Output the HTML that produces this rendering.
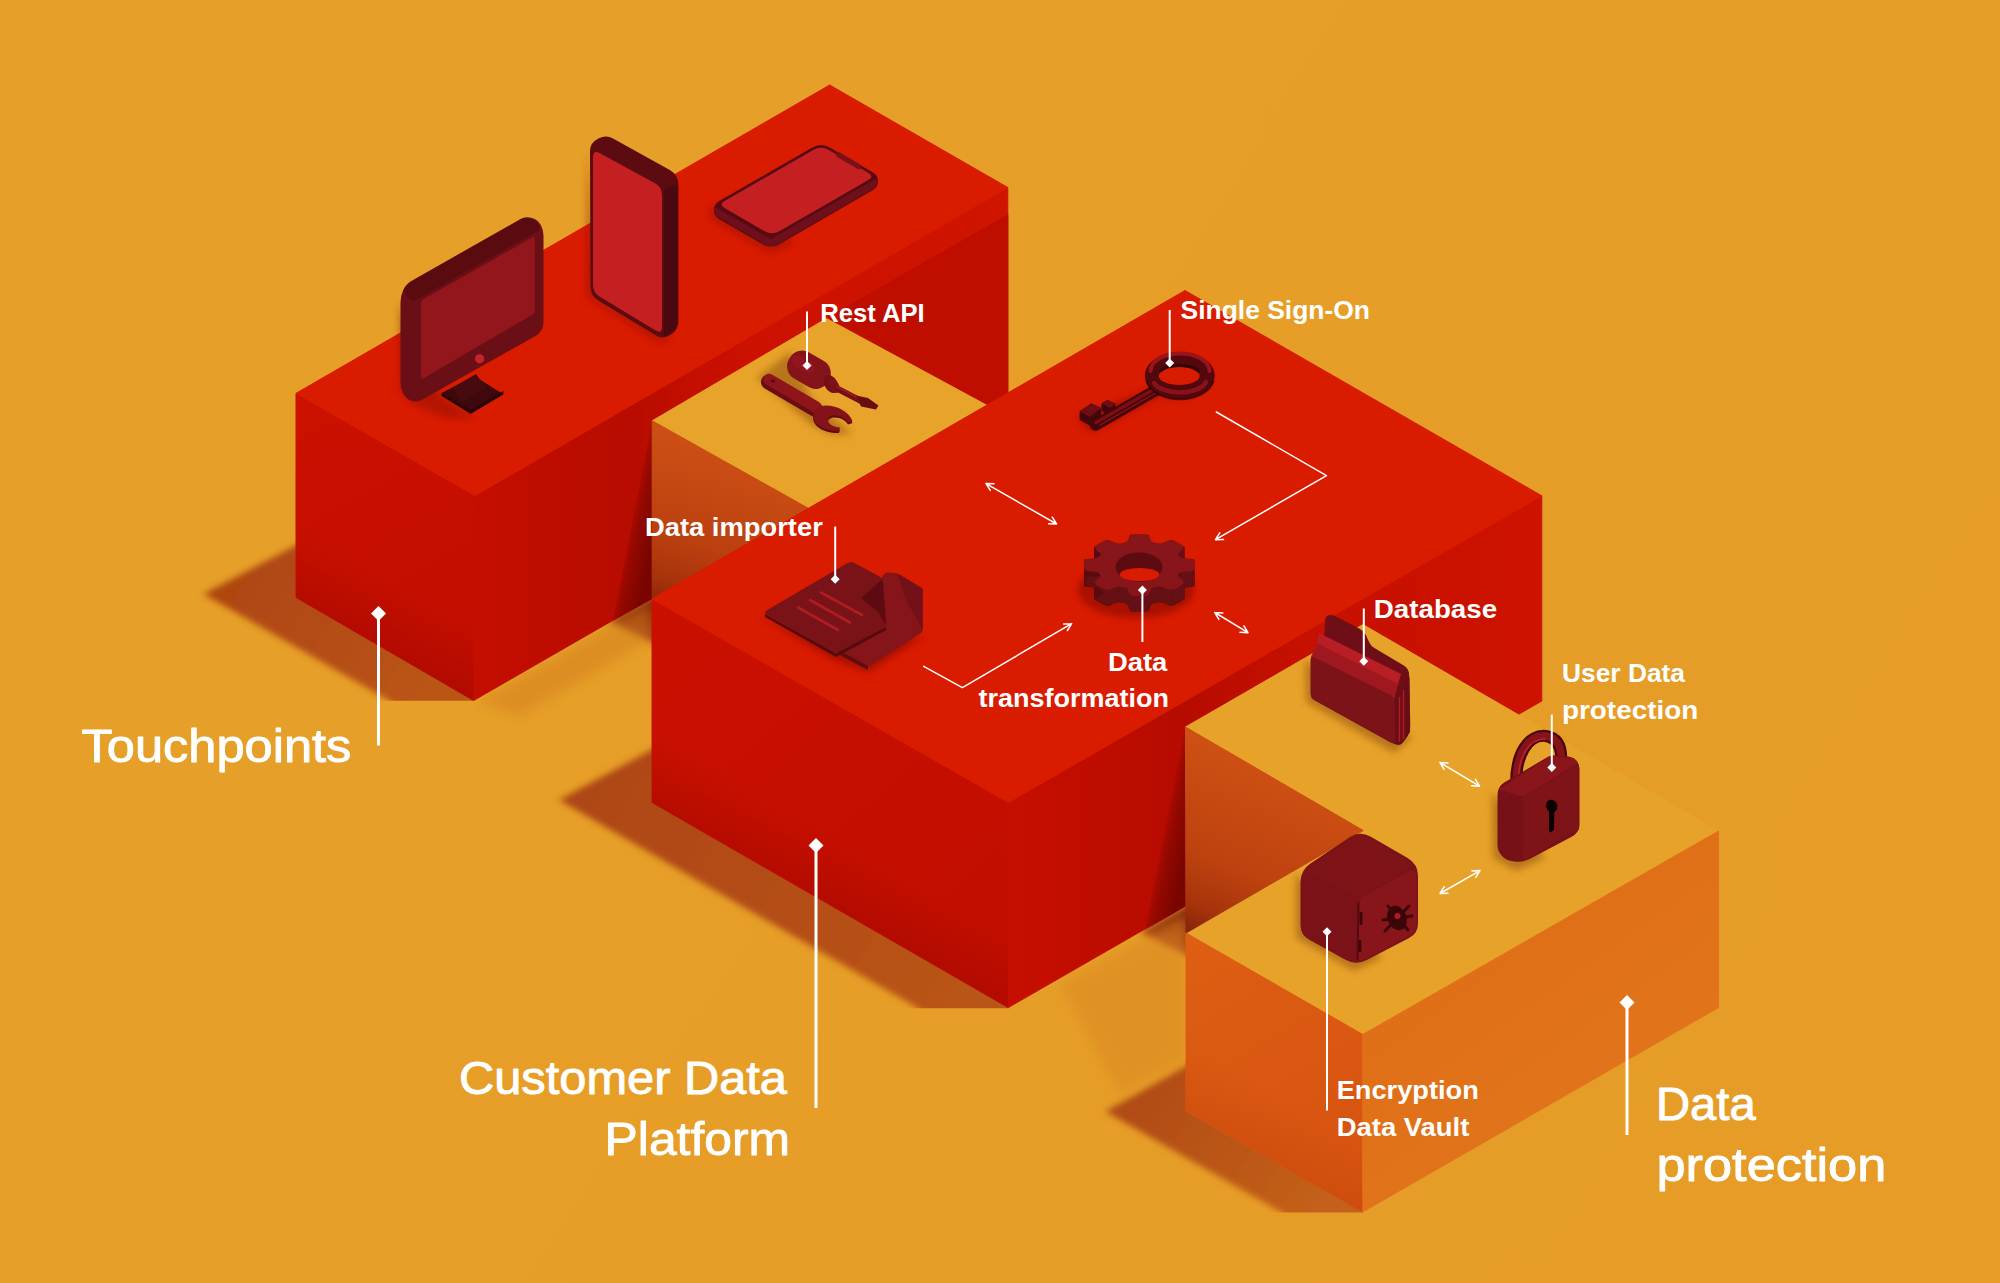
<!DOCTYPE html>
<html lang="en">
<head>
<meta charset="utf-8">
<title>Customer Data Platform architecture</title>
<style>
html,body{margin:0;padding:0;background:#E69F28;}
body{width:2000px;height:1283px;overflow:hidden;font-family:"Liberation Sans",sans-serif;}
svg{display:block;}
</style>
</head>
<body>
<svg width="2000" height="1283" viewBox="0 0 2000 1283">

<defs>
<filter id="b2" x="-20%" y="-20%" width="140%" height="140%"><feGaussianBlur stdDeviation="3"/></filter>
<filter id="b3" x="-20%" y="-20%" width="140%" height="140%"><feGaussianBlur stdDeviation="3.5"/></filter>
<filter id="b6" x="-30%" y="-30%" width="160%" height="160%"><feGaussianBlur stdDeviation="6"/></filter>
<linearGradient id="gBg" gradientUnits="userSpaceOnUse" x1="0" y1="0" x2="2000" y2="1283"><stop offset="0" stop-color="#E6A028"/><stop offset="1" stop-color="#E69C27"/></linearGradient>
<linearGradient id="shTP" gradientUnits="userSpaceOnUse" x1="230" y1="560" x2="440" y2="700"><stop offset="0" stop-color="#AE4511"/><stop offset="1" stop-color="#BB5517"/></linearGradient>
<linearGradient id="shCDP" gradientUnits="userSpaceOnUse" x1="590" y1="770" x2="960" y2="1000"><stop offset="0" stop-color="#AE4612"/><stop offset="1" stop-color="#B95418"/></linearGradient>
<linearGradient id="shDP" gradientUnits="userSpaceOnUse" x1="1130" y1="1080" x2="1320" y2="1210"><stop offset="0" stop-color="#B04A12"/><stop offset="1" stop-color="#C4601A"/></linearGradient>
<linearGradient id="tpL" gradientUnits="userSpaceOnUse" x1="300" y1="400" x2="470" y2="700"><stop offset="0" stop-color="#CB1100"/><stop offset="1" stop-color="#C00D00"/></linearGradient>
<linearGradient id="tpR" gradientUnits="userSpaceOnUse" x1="475" y1="0" x2="1007" y2="0"><stop offset="0" stop-color="#C40E00"/><stop offset="0.18" stop-color="#BC0C00"/><stop offset="0.3" stop-color="#B80C00"/><stop offset="0.4" stop-color="#C30E00"/><stop offset="0.52" stop-color="#CC1100"/><stop offset="1" stop-color="#CF1400"/></linearGradient>
<linearGradient id="cdpL" gradientUnits="userSpaceOnUse" x1="660" y1="600" x2="1000" y2="1000"><stop offset="0" stop-color="#CA1100"/><stop offset="1" stop-color="#C00D00"/></linearGradient>
<linearGradient id="cdpR" gradientUnits="userSpaceOnUse" x1="1008" y1="0" x2="1541" y2="0"><stop offset="0" stop-color="#C60F00"/><stop offset="0.2" stop-color="#BD0C00"/><stop offset="0.33" stop-color="#B60B00"/><stop offset="0.55" stop-color="#C61000"/><stop offset="1" stop-color="#CD1200"/></linearGradient>
<linearGradient id="yTri1" gradientUnits="userSpaceOnUse" x1="700" y1="440" x2="655" y2="600"><stop offset="0" stop-color="#CC5014"/><stop offset="0.6" stop-color="#BC400F"/><stop offset="0.85" stop-color="#A8340C"/><stop offset="1" stop-color="#8E2808"/></linearGradient>
<linearGradient id="yTri2" gradientUnits="userSpaceOnUse" x1="1260" y1="760" x2="1190" y2="930"><stop offset="0" stop-color="#CE5013"/><stop offset="0.6" stop-color="#BE420F"/><stop offset="0.85" stop-color="#A8340C"/><stop offset="1" stop-color="#8A2608"/></linearGradient>
<linearGradient id="dpL" gradientUnits="userSpaceOnUse" x1="1190" y1="940" x2="1360" y2="1210"><stop offset="0" stop-color="#DE5E13"/><stop offset="1" stop-color="#D65210"/></linearGradient>
<linearGradient id="dpR" gradientUnits="userSpaceOnUse" x1="1400" y1="900" x2="1600" y2="1180"><stop offset="0" stop-color="#DF6D16"/><stop offset="0.8" stop-color="#E1741A"/><stop offset="1" stop-color="#E47E1E"/></linearGradient>
<linearGradient id="shFaceTP" gradientUnits="userSpaceOnUse" x1="624" y1="540" x2="651" y2="545.4"><stop offset="0" stop-color="#8E0800" stop-opacity="0"/><stop offset="0.4" stop-color="#8E0800" stop-opacity="0.88"/><stop offset="1" stop-color="#7A0500" stop-opacity="1"/></linearGradient>
<linearGradient id="shFaceCDP" gradientUnits="userSpaceOnUse" x1="1157" y1="850" x2="1184.5" y2="855.5"><stop offset="0" stop-color="#8E0800" stop-opacity="0"/><stop offset="0.4" stop-color="#8E0800" stop-opacity="0.88"/><stop offset="1" stop-color="#7A0500" stop-opacity="1"/></linearGradient>
<linearGradient id="aoL1" gradientUnits="userSpaceOnUse" x1="415" y1="596.04" x2="385" y2="648"><stop offset="0" stop-color="#9A0600" stop-opacity="0"/><stop offset="1" stop-color="#980600" stop-opacity="0.36"/></linearGradient>
<linearGradient id="aoL2" gradientUnits="userSpaceOnUse" x1="860" y1="853.04" x2="830" y2="905"><stop offset="0" stop-color="#9A0600" stop-opacity="0"/><stop offset="1" stop-color="#980600" stop-opacity="0.36"/></linearGradient>
<linearGradient id="aoL3" gradientUnits="userSpaceOnUse" x1="1304" y1="1109.54" x2="1274" y2="1161.5"><stop offset="0" stop-color="#B83A08" stop-opacity="0"/><stop offset="1" stop-color="#B83A08" stop-opacity="0.25"/></linearGradient>
<linearGradient id="shCorner1" gradientUnits="userSpaceOnUse" x1="645" y1="605" x2="640" y2="648"><stop offset="0" stop-color="#86280A"/><stop offset="1" stop-color="#B8541A"/></linearGradient>
<linearGradient id="shCorner2" gradientUnits="userSpaceOnUse" x1="1178" y1="914" x2="1173" y2="958"><stop offset="0" stop-color="#86280A"/><stop offset="1" stop-color="#B8541A"/></linearGradient>
<linearGradient id="tpR2" gradientUnits="userSpaceOnUse" x1="475" y1="0" x2="652" y2="0"><stop offset="0" stop-color="#B00A00" stop-opacity="0"/><stop offset="0.5" stop-color="#B00A00" stop-opacity="0.35"/><stop offset="1" stop-color="#A80800" stop-opacity="0.75"/></linearGradient>
<linearGradient id="cdpR2" gradientUnits="userSpaceOnUse" x1="1008" y1="0" x2="1186" y2="0"><stop offset="0" stop-color="#B00A00" stop-opacity="0"/><stop offset="0.5" stop-color="#B00A00" stop-opacity="0.3"/><stop offset="1" stop-color="#A80800" stop-opacity="0.7"/></linearGradient>
</defs>

<rect width="2000" height="1283" fill="url(#gBg)"/>
<clipPath id="cTP"><rect x="0" y="0" width="473.9" height="700.8"/></clipPath>
<g clip-path="url(#cTP)"><g filter="url(#b2)">
<polygon points="310,538 203.5,594 388,700 396,707 490,707 490,640 310,560" fill="url(#shTP)"  />
</g></g>
<clipPath id="cCDP"><rect x="0" y="0" width="1008.6" height="1008.2"/></clipPath>
<g clip-path="url(#cCDP)"><g filter="url(#b2)">
<polygon points="668,741 559,800 915,1006.5 925,1015 1025,1015 1025,960 668,780" fill="url(#shCDP)"  />
</g></g>
<clipPath id="cDP"><rect x="0" y="0" width="1362.8" height="1212.6"/></clipPath>
<g clip-path="url(#cDP)"><g filter="url(#b2)">
<polygon points="1200,1058 1105.5,1111.5 1279,1211 1289,1219 1380,1219 1380,1180 1200,1095" fill="url(#shDP)"  />
</g></g>
<g filter="url(#b3)">
<polygon points="668,588 608,621 668,650" fill="url(#shCorner1)"  />
<polygon points="1200,898 1140,932 1200,962" fill="url(#shCorner2)"  />
</g>
<g filter="url(#b6)" opacity="0.45">
<polygon points="478,702 650,603 650,640 520,716" fill="#D27A1C"  />
</g>
<g filter="url(#b6)" opacity="0.5">
<polygon points="1060,985 1186,915 1186,1060 1120,1095" fill="#DC8620"  />
</g>
<polygon points="296,393.3 475,495.6 473.6,700.5 296,597.5" fill="url(#tpL)" stroke="url(#tpL)" stroke-width="1" stroke-linejoin="round" />
<polygon points="475,495.6 1007.8,187.5 1007.8,393 473.6,700.5" fill="url(#tpR)" stroke="url(#tpR)" stroke-width="1" stroke-linejoin="round" />
<polygon points="296,527.5 473.6,630.5 473.6,700.5 296,597.5" fill="url(#aoL1)"  />
<polygon points="829.7,85 1007.8,187.5 475,495.6 296,393.3" fill="#D91B00" stroke="#D91B00" stroke-width="1" stroke-linejoin="round" />
<polygon points="826.5,318.5 1007.8,215 1007.8,394 985,406.5" fill="#BF0D00" stroke="#BF0D00" stroke-width="1" stroke-linejoin="round" />
<polygon points="652.2,420.5 652.2,599 613,621" fill="url(#shFaceTP)"  />
<polygon points="652.2,420.8 826.5,318.5 990,407 815,512" fill="#E7A32A" stroke="#E7A32A" stroke-width="1" stroke-linejoin="round" />
<polygon points="652.2,420.8 815,512 815,640 652.2,600" fill="url(#yTri1)" stroke="url(#yTri1)" stroke-width="1" stroke-linejoin="round" />
<polygon points="652,598.8 1008.4,802.5 1008.2,1007.6 652,802.5" fill="url(#cdpL)" stroke="url(#cdpL)" stroke-width="1" stroke-linejoin="round" />
<polygon points="1008.4,802.5 1541.8,495.8 1541.8,701 1008.2,1007.6" fill="url(#cdpR)" stroke="url(#cdpR)" stroke-width="1" stroke-linejoin="round" />
<polygon points="652,732.5 1008.2,937.6 1008.2,1007.6 652,802.5" fill="url(#aoL2)"  />
<polygon points="1185,290.5 1541.8,495.8 1008.4,802.5 652,598.8" fill="#D91B00" stroke="#D91B00" stroke-width="1" stroke-linejoin="round" />
<polygon points="1185.5,727 1185.5,906.5 1145,930" fill="url(#shFaceCDP)"  />
<polygon points="1185.5,727 1363,624.6 1718.6,831 1362.8,1034.5 1186,933 1363.3,830.5" fill="#E7A22A" stroke="#E7A22A" stroke-width="1" stroke-linejoin="round" />
<polygon points="1185.5,727 1363.3,830.5 1186,933" fill="url(#yTri2)" stroke="url(#yTri2)" stroke-width="1" stroke-linejoin="round" />
<polygon points="1186,933 1362.8,1034.5 1362.6,1212 1186,1111" fill="url(#dpL)" stroke="url(#dpL)" stroke-width="1" stroke-linejoin="round" />
<polygon points="1362.8,1034.5 1718.6,831 1718.6,1007.5 1362.6,1212" fill="url(#dpR)" stroke="url(#dpR)" stroke-width="1" stroke-linejoin="round" />
<polygon points="1186,1041 1362.6,1142 1362.6,1212 1186,1111" fill="url(#aoL3)"  />
<!-- ===== icon soft shadows ===== -->
<g filter="url(#b3)" opacity="0.38">
<polygon points="399.0,302.0 401.0,392.0 414.0,404.0 445.0,418.0 475.0,418.0 440.0,395.0" fill="#7A0800" />
<polygon points="587.0,150.0 587.0,297.0 660.0,343.0 672.0,340.0 600.0,298.0" fill="#7A0800" />
<polygon points="711.0,206.0 711.0,219.0 770.0,253.0 795.0,243.0" fill="#7A0800" />
<polygon points="1077.0,418.0 1092.0,432.0 1160.0,396.0 1200.0,402.0 1150.0,390.0" fill="#5A0400" />
<ellipse cx="1136" cy="590" rx="58" ry="28" fill="#5A0400"/>
<polygon points="758.0,616.0 834.0,660.0 868.0,672.0 925.0,636.0 840.0,650.0" fill="#5A0400" />
</g>
<g filter="url(#b3)" opacity="0.5">
<polygon points="757.0,378.0 770.0,368.0 790.0,352.0 812.0,400.0 852.0,434.0 830.0,434.0 812.0,425.0" fill="#8A4A08" />
<polygon points="1305.0,660.0 1306.0,702.0 1394.0,753.0 1412.0,738.0" fill="#8A4A08" />
<polygon points="1492.0,792.0 1493.0,858.0 1516.0,871.0 1545.0,858.0" fill="#8A4A08" />
<polygon points="1296.0,874.0 1296.0,938.0 1354.0,971.0 1382.0,958.0" fill="#8A4A08" />
</g>
<!-- ===== monitor ===== -->
<g>
<polygon points="441.6,393.0 474.3,376.0 503.3,394.3 470.6,413.7" fill="#3E080D" />
<polygon points="441.6,393.0 470.6,410.0 503.3,391.0 503.3,394.3 470.6,413.7 441.6,396.0" fill="#2A0508" />
<polygon points="452.0,388.0 476.0,374.0 486.0,388.0 462.0,402.0" fill="#470A0F" />
<path d="M400.5,302.6 Q400.5,296.0 403.2,290.0 L403.2,290.0 Q406.0,284.0 411.7,280.7 L520.5,219.1 Q526.0,216.0 532.0,218.0 L532.6,218.2 Q538.0,220.0 540.8,225.0 L540.8,225.0 Q543.5,230.0 543.5,235.7 L543.5,322.8 Q543.5,327.0 541.2,330.5 L541.2,330.5 Q539.0,334.0 535.4,336.0 L422.0,399.7 Q417.0,402.5 411.5,400.8 L411.5,400.8 Q406.0,399.0 403.4,393.8 L403.2,393.5 Q400.5,388.0 400.5,381.9 Z" fill="#6A0F15" />
<path d="M404.6,292.7 Q403.0,289.0 405.9,286.3 L407.1,285.2 Q410.0,282.5 413.5,280.5 L521.5,219.0 Q525.0,217.0 528.8,218.4 L532.2,219.6 Q536.0,221.0 538.1,224.4 L538.9,225.6 Q541.0,229.0 537.5,231.0 L417.3,299.1 Q414.0,301.0 410.5,299.5 L410.5,299.5 Q407.0,298.0 405.5,294.5 Z" fill="#5A0B10" />
<path d="M421.0,303.5 Q421.0,300.5 423.6,299.0 L532.1,237.5 Q534.7,236.0 534.7,239.0 L534.7,310.4 Q534.7,313.4 532.1,314.9 L423.6,378.3 Q421.0,379.8 421.0,376.8 Z" fill="#93161C" />
<circle cx="479.6" cy="358.8" r="4.6" fill="#C6232B"/>
</g>
<!-- ===== standing phone ===== -->
<g>
<path d="M590.0,151.0 Q590.0,143.0 597.1,139.2 L598.9,138.3 Q606.0,134.5 613.0,138.4 L669.8,170.1 Q678.5,175.0 678.5,185.0 L678.5,320.9 Q678.5,330.0 670.8,334.8 L669.8,335.3 Q663.0,339.5 656.1,335.4 L599.1,301.1 Q590.5,296.0 590.5,286.0 Z" fill="#5C0B11" />
<path d="M664.0,192.0 Q664.0,190.0 665.7,189.0 L670.8,186.0 Q677.5,182.0 677.5,189.8 L677.5,320.0 Q677.5,328.0 670.8,332.2 L665.7,335.4 Q664.0,336.5 664.0,334.5 Z" fill="#4A090E" />
<path d="M593.0,157.5 Q593.0,149.5 600.0,153.3 L655.0,183.2 Q662.0,187.0 662.0,195.0 L662.0,326.5 Q662.0,334.5 655.2,330.3 L599.8,296.7 Q593.0,292.5 593.0,284.5 Z" fill="#C42022" />
</g>
<!-- ===== lying phone ===== -->
<g>
<path d="M714.0,210.0 Q714.0,204.0 719.2,201.0 L812.3,147.5 Q821.0,142.5 829.7,147.5 L873.0,172.6 Q878.0,175.5 878.0,181.2 L878.0,181.2 Q878.0,187.0 873.0,189.9 L779.7,244.0 Q771.0,249.0 762.3,244.0 L719.2,219.0 Q714.0,216.0 714.0,210.0 Z" fill="#580A13" />
<path d="M715.0,209.0 Q715.0,207.0 716.7,208.0 L769.3,238.0 Q771.0,239.0 772.7,238.0 L875.3,179.0 Q877.0,178.0 877.0,180.0 L877.0,182.5 Q877.0,187.0 873.1,189.2 L777.9,244.0 Q771.0,248.0 764.1,243.9 L718.4,217.0 Q715.0,215.0 715.0,211.0 Z" fill="#6E101B" />
<path d="M724.6,208.0 Q718.5,204.5 724.6,201.0 L813.2,150.0 Q821.0,145.5 828.8,150.0 L868.4,173.0 Q874.5,176.5 868.4,180.0 L779.8,231.0 Q772.0,235.5 764.2,231.0 Z" fill="#C42022" />
<path d="M837.0,153.2 Q838.0,151.5 839.7,152.5 L860.3,164.5 Q862.0,165.5 861.0,167.2 L860.5,168.3 Q859.5,170.0 857.8,169.0 L837.2,157.0 Q835.5,156.0 836.5,154.3 Z" fill="#7A1018" />
</g>
<!-- ===== tools ===== -->
<g>
<path d="M768.5,382 L815.5,409.5" stroke="#6A0D12" stroke-width="15" stroke-linecap="round" fill="none"/>
<path d="M769,379.5 L816,407" stroke="#8E1519" stroke-width="11.5" stroke-linecap="round" fill="none"/>
<ellipse cx="773" cy="381" rx="2.2" ry="1.5" fill="#560A0E"/>
<path d="M852.5,423 C849,414 838,407.5 826,407.5 C818,407.5 813,412 813,418 C813,426 824,433.5 839,433 L840,429.5 C833,429 828,426 828,422 C828,418 833,416.5 839,418 C843,419 846,421.5 848,424.5 Z" fill="#5E0B10"/>
<path d="M852.5,421 C849,412 838,405.5 826,405.5 C818,405.5 813,410 813,416 C813,424 824,431.5 839,431 L840,427.5 C833,427 828,424 828,420 C828,416 833,414.5 839,416 C843,417 846,419.5 848,422.5 Z" fill="#831318"/>
<rect x="786.5" y="354.5" width="45" height="30" rx="14" ry="14" transform="rotate(30 808.5 369.5)" fill="#84131A"/>
<ellipse cx="803" cy="364" rx="13" ry="7" transform="rotate(30 803 364)" fill="#981820" opacity="0.6"/>
<ellipse cx="831" cy="384" rx="6.5" ry="9.5" transform="rotate(-28 831 384)" fill="#741016"/>
<ellipse cx="834.5" cy="386" rx="4.5" ry="7.5" transform="rotate(-28 834.5 386)" fill="#7E1218"/>
<path d="M836,388 L864,402.5" stroke="#74101A" stroke-width="6" stroke-linecap="round"/>
<path d="M836.5,386.5 L862,400" stroke="#A0181E" stroke-width="1.5" stroke-linecap="round"/>
<polygon points="856.0,395.5 868.0,398.0 878.5,405.5 876.0,409.5 861.0,406.5" fill="#6A0D11" />
</g>
<!-- ===== key ===== -->
<g>
<polygon points="1079.6,411.6 1091.2,403.6 1101.2,408.0 1101.2,417.0 1090.0,425.5 1079.6,420.0" fill="#43060A" />
<polygon points="1079.6,411.6 1091.2,403.6 1101.2,408.0 1090.0,416.8" fill="#6E0D13" />
<polygon points="1101.6,403.2 1107.6,400.0 1115.6,404.0 1115.6,412.0 1110.0,416.0 1101.6,411.0" fill="#43060A" />
<polygon points="1101.6,403.2 1107.6,400.0 1115.6,404.0 1110.0,408.0" fill="#6E0D13" />
<path d="M1157,389.5 L1095.5,425" stroke="#45060A" stroke-width="11.5" stroke-linecap="round"/>
<path d="M1157,387.5 L1096,422.5" stroke="#7A0E15" stroke-width="3.5" stroke-linecap="round"/>
<path d="M1158,391.5 L1100,425" stroke="#A8161E" stroke-width="1.2" stroke-linecap="round" opacity="0.8"/>
<path fill-rule="evenodd" d="M1144.8,375.6 a35,23.6 0 1,0 70,0 a35,23.6 0 1,0 -70,0 Z M1158.7,376 a20.5,9 0 1,0 41,0 a20.5,9 0 1,0 -41,0 Z" fill="#52080D"/>
<path d="M1150.5,371 a29.5,17.5 0 0,1 59,0" fill="none" stroke="#9A141C" stroke-width="4" stroke-linecap="round"/>
<path d="M1154,383 a27,13.5 0 0,0 52,-1" fill="none" stroke="#8A1119" stroke-width="4.5" stroke-linecap="round"/>
<path d="M1160,372 a20,8.5 0 0,1 39,0" fill="none" stroke="#2E0406" stroke-width="2.5"/>
<path d="M1146.5,381 a34,22 0 0,0 67,0" fill="none" stroke="#2E0406" stroke-width="2" opacity="0.7"/>
</g>
<!-- ===== gear ===== -->
<g>
<path d="M1177.9,572.8 Q1179.7,575.2 1182.7,575.4 L1190.6,576.1 Q1193.6,576.3 1193.6,579.3 L1193.6,582.7 Q1193.6,585.7 1190.6,585.9 L1182.7,586.6 Q1179.7,586.8 1177.9,589.2 L1177.3,590.1 Q1175.4,592.5 1177.9,594.2 L1181.4,596.8 Q1183.8,598.6 1181.2,600.1 L1174.3,603.8 Q1171.6,605.3 1168.8,604.2 L1163.1,601.8 Q1160.3,600.7 1157.4,601.4 L1152.9,602.4 Q1150.0,603.0 1149.2,605.9 L1148.7,607.7 Q1147.9,610.6 1144.9,610.6 L1133.7,610.6 Q1130.7,610.6 1129.9,607.7 L1129.4,605.9 Q1128.6,603.0 1125.7,602.4 L1121.2,601.4 Q1118.3,600.7 1115.5,601.8 L1109.8,604.2 Q1107.0,605.3 1104.3,603.8 L1097.4,600.1 Q1094.8,598.6 1097.2,596.8 L1100.7,594.2 Q1103.2,592.5 1101.3,590.1 L1100.7,589.2 Q1098.9,586.8 1095.9,586.6 L1088.0,585.9 Q1085.0,585.7 1085.0,582.7 L1085.0,579.3 Q1085.0,576.3 1088.0,576.1 L1095.9,575.4 Q1098.9,575.2 1100.7,572.8 L1101.3,571.9 Q1103.2,569.5 1100.7,567.8 L1097.2,565.2 Q1094.8,563.4 1097.4,561.9 L1104.3,558.2 Q1107.0,556.7 1109.8,557.8 L1115.5,560.2 Q1118.3,561.3 1121.2,560.6 L1125.7,559.6 Q1128.6,559.0 1129.4,556.1 L1129.9,554.3 Q1130.7,551.4 1133.7,551.4 L1144.9,551.4 Q1147.9,551.4 1148.7,554.3 L1149.2,556.1 Q1150.0,559.0 1152.9,559.6 L1157.4,560.6 Q1160.3,561.3 1163.1,560.2 L1168.8,557.8 Q1171.6,556.7 1174.3,558.2 L1181.2,561.9 Q1183.8,563.4 1181.4,565.2 L1177.9,567.8 Q1175.4,569.5 1177.3,571.9 Z" fill="#5A0B10" stroke="#5A0B10" stroke-width="2" stroke-linejoin="round"/>
<polygon points="1179.7,559.2 1193.6,560.3 1193.6,576.3 1179.7,575.2" fill="#5A0B10" stroke="#5A0B10" stroke-width="1.5" stroke-linejoin="round"/>
<polygon points="1193.6,560.3 1193.6,569.7 1193.6,585.7 1193.6,576.3" fill="#5A0B10" stroke="#5A0B10" stroke-width="1.5" stroke-linejoin="round"/>
<polygon points="1193.6,569.7 1179.7,570.8 1179.7,586.8 1193.6,585.7" fill="#651014" stroke="#651014" stroke-width="1.5" stroke-linejoin="round"/>
<polygon points="1179.7,570.8 1175.4,576.5 1175.4,592.5 1179.7,586.8" fill="#651014" stroke="#651014" stroke-width="1.5" stroke-linejoin="round"/>
<polygon points="1175.4,576.5 1183.8,582.6 1183.8,598.6 1175.4,592.5" fill="#5A0B10" stroke="#5A0B10" stroke-width="1.5" stroke-linejoin="round"/>
<polygon points="1183.8,582.6 1171.6,589.3 1171.6,605.3 1183.8,598.6" fill="#651014" stroke="#651014" stroke-width="1.5" stroke-linejoin="round"/>
<polygon points="1171.6,589.3 1160.3,584.7 1160.3,600.7 1171.6,605.3" fill="#651014" stroke="#651014" stroke-width="1.5" stroke-linejoin="round"/>
<polygon points="1160.3,584.7 1150.0,587.0 1150.0,603.0 1160.3,600.7" fill="#651014" stroke="#651014" stroke-width="1.5" stroke-linejoin="round"/>
<polygon points="1150.0,587.0 1147.9,594.6 1147.9,610.6 1150.0,603.0" fill="#651014" stroke="#651014" stroke-width="1.5" stroke-linejoin="round"/>
<polygon points="1147.9,594.6 1130.7,594.6 1130.7,610.6 1147.9,610.6" fill="#651014" stroke="#651014" stroke-width="1.5" stroke-linejoin="round"/>
<polygon points="1130.7,594.6 1128.6,587.0 1128.6,603.0 1130.7,610.6" fill="#651014" stroke="#651014" stroke-width="1.5" stroke-linejoin="round"/>
<polygon points="1128.6,587.0 1118.3,584.7 1118.3,600.7 1128.6,603.0" fill="#651014" stroke="#651014" stroke-width="1.5" stroke-linejoin="round"/>
<polygon points="1118.3,584.7 1107.0,589.3 1107.0,605.3 1118.3,600.7" fill="#651014" stroke="#651014" stroke-width="1.5" stroke-linejoin="round"/>
<polygon points="1107.0,589.3 1094.8,582.6 1094.8,598.6 1107.0,605.3" fill="#651014" stroke="#651014" stroke-width="1.5" stroke-linejoin="round"/>
<polygon points="1094.8,582.6 1103.2,576.5 1103.2,592.5 1094.8,598.6" fill="#5A0B10" stroke="#5A0B10" stroke-width="1.5" stroke-linejoin="round"/>
<polygon points="1103.2,576.5 1098.9,570.8 1098.9,586.8 1103.2,592.5" fill="#651014" stroke="#651014" stroke-width="1.5" stroke-linejoin="round"/>
<polygon points="1098.9,570.8 1085.0,569.7 1085.0,585.7 1098.9,586.8" fill="#651014" stroke="#651014" stroke-width="1.5" stroke-linejoin="round"/>
<polygon points="1085.0,569.7 1085.0,560.3 1085.0,576.3 1085.0,585.7" fill="#5A0B10" stroke="#5A0B10" stroke-width="1.5" stroke-linejoin="round"/>
<polygon points="1085.0,560.3 1098.9,559.2 1098.9,575.2 1085.0,576.3" fill="#5A0B10" stroke="#5A0B10" stroke-width="1.5" stroke-linejoin="round"/>
<polygon points="1098.9,559.2 1103.2,553.5 1103.2,569.5 1098.9,575.2" fill="#5A0B10" stroke="#5A0B10" stroke-width="1.5" stroke-linejoin="round"/>
<polygon points="1103.2,553.5 1094.8,547.4 1094.8,563.4 1103.2,569.5" fill="#651014" stroke="#651014" stroke-width="1.5" stroke-linejoin="round"/>
<polygon points="1094.8,547.4 1107.0,540.7 1107.0,556.7 1094.8,563.4" fill="#5A0B10" stroke="#5A0B10" stroke-width="1.5" stroke-linejoin="round"/>
<polygon points="1107.0,540.7 1118.3,545.3 1118.3,561.3 1107.0,556.7" fill="#5A0B10" stroke="#5A0B10" stroke-width="1.5" stroke-linejoin="round"/>
<polygon points="1118.3,545.3 1128.6,543.0 1128.6,559.0 1118.3,561.3" fill="#5A0B10" stroke="#5A0B10" stroke-width="1.5" stroke-linejoin="round"/>
<polygon points="1128.6,543.0 1130.7,535.4 1130.7,551.4 1128.6,559.0" fill="#5A0B10" stroke="#5A0B10" stroke-width="1.5" stroke-linejoin="round"/>
<polygon points="1130.7,535.4 1147.9,535.4 1147.9,551.4 1130.7,551.4" fill="#5A0B10" stroke="#5A0B10" stroke-width="1.5" stroke-linejoin="round"/>
<polygon points="1147.9,535.4 1150.0,543.0 1150.0,559.0 1147.9,551.4" fill="#5A0B10" stroke="#5A0B10" stroke-width="1.5" stroke-linejoin="round"/>
<polygon points="1150.0,543.0 1160.3,545.3 1160.3,561.3 1150.0,559.0" fill="#5A0B10" stroke="#5A0B10" stroke-width="1.5" stroke-linejoin="round"/>
<polygon points="1160.3,545.3 1171.6,540.7 1171.6,556.7 1160.3,561.3" fill="#5A0B10" stroke="#5A0B10" stroke-width="1.5" stroke-linejoin="round"/>
<polygon points="1171.6,540.7 1183.8,547.4 1183.8,563.4 1171.6,556.7" fill="#5A0B10" stroke="#5A0B10" stroke-width="1.5" stroke-linejoin="round"/>
<polygon points="1183.8,547.4 1175.4,553.5 1175.4,569.5 1183.8,563.4" fill="#651014" stroke="#651014" stroke-width="1.5" stroke-linejoin="round"/>
<polygon points="1175.4,553.5 1179.7,559.2 1179.7,575.2 1175.4,569.5" fill="#5A0B10" stroke="#5A0B10" stroke-width="1.5" stroke-linejoin="round"/>
<path d="M1177.6,556.4 Q1179.7,559.2 1183.2,559.4 L1190.1,560.0 Q1193.6,560.3 1193.6,563.8 L1193.6,566.2 Q1193.6,569.7 1190.1,570.0 L1183.2,570.6 Q1179.7,570.8 1177.6,573.6 L1177.6,573.7 Q1175.4,576.5 1178.3,578.5 L1181.0,580.6 Q1183.8,582.6 1180.7,584.3 L1174.7,587.6 Q1171.6,589.3 1168.4,588.0 L1163.5,586.0 Q1160.3,584.7 1156.9,585.5 L1153.4,586.3 Q1150.0,587.0 1149.1,590.4 L1148.8,591.3 Q1147.9,594.6 1144.4,594.6 L1134.2,594.6 Q1130.7,594.6 1129.8,591.3 L1129.5,590.4 Q1128.6,587.0 1125.2,586.3 L1121.7,585.5 Q1118.3,584.7 1115.1,586.0 L1110.2,588.0 Q1107.0,589.3 1103.9,587.6 L1097.9,584.3 Q1094.8,582.6 1097.6,580.6 L1100.3,578.5 Q1103.2,576.5 1101.0,573.7 L1101.0,573.6 Q1098.9,570.8 1095.4,570.6 L1088.5,570.0 Q1085.0,569.7 1085.0,566.2 L1085.0,563.8 Q1085.0,560.3 1088.5,560.0 L1095.4,559.4 Q1098.9,559.2 1101.0,556.4 L1101.0,556.3 Q1103.2,553.5 1100.3,551.5 L1097.6,549.4 Q1094.8,547.4 1097.9,545.7 L1103.9,542.4 Q1107.0,540.7 1110.2,542.0 L1115.1,544.0 Q1118.3,545.3 1121.7,544.5 L1125.2,543.7 Q1128.6,543.0 1129.5,539.6 L1129.8,538.7 Q1130.7,535.4 1134.2,535.4 L1144.4,535.4 Q1147.9,535.4 1148.8,538.7 L1149.1,539.6 Q1150.0,543.0 1153.4,543.7 L1156.9,544.5 Q1160.3,545.3 1163.5,544.0 L1168.4,542.0 Q1171.6,540.7 1174.7,542.4 L1180.7,545.7 Q1183.8,547.4 1181.0,549.4 L1178.3,551.5 Q1175.4,553.5 1177.6,556.3 Z" fill="#87151A" stroke="#87151A" stroke-width="2.5" stroke-linejoin="round"/>
<ellipse cx="1139.0" cy="567" rx="23.5" ry="14.5" fill="#5C0C11"/>
<ellipse cx="1139.5" cy="574.5" rx="19.7" ry="6.6" fill="#D91C00"/>
</g>
<!-- ===== documents ===== -->
<g>
<path d="M883.4,575.1 Q885.0,572.5 888.0,572.6 L894.0,572.9 Q897.0,573.0 899.6,574.5 L920.4,587.0 Q923.0,588.5 923.0,591.5 L923.0,628.0 Q923.0,632.0 919.6,634.1 L871.4,664.9 Q868.0,667.0 864.5,665.0 L840.6,651.5 Q838.0,650.0 839.6,647.4 Z" fill="#86151A" />
<polygon points="897.0,573.5 922.5,588.5 922.5,630.0 906.0,600.0" fill="#74101A" />
<polygon points="838.0,650.0 868.0,666.0 868.0,670.0 838.0,654.0" fill="#5E0C10" />
<path d="M767.4,614.9 Q763.0,612.5 767.3,610.0 L846.7,563.5 Q851.0,561.0 855.4,563.4 L879.5,576.6 Q883.0,578.5 883.3,582.5 L886.6,621.0 Q887.0,626.0 882.6,628.4 L840.4,651.1 Q836.0,653.5 831.6,651.1 Z" fill="#791318" />
<polygon points="861.0,598.0 882.5,579.0 886.0,625.0 878.0,612.0" fill="#580A0F" opacity="0.85"/>
<polygon points="765.0,614.0 836.0,653.5 886.0,627.0 886.0,630.0 836.0,657.0 765.0,617.0" fill="#540A0E" />
<g stroke="#B01C22" stroke-width="2.6" stroke-linecap="round">
<line x1="821" y1="592.5" x2="862" y2="615"/><line x1="810" y1="600" x2="850" y2="622.5"/><line x1="798" y1="607.5" x2="838" y2="630"/>
</g></g>
<!-- ===== folder ===== -->
<g>
<path d="M1323.5,635.7 Q1324.5,634.0 1324.6,632.0 L1325.3,619.3 Q1325.5,616.0 1328.8,615.2 L1328.8,615.2 Q1332.0,614.5 1335.0,616.0 L1359.6,628.7 Q1364.0,631.0 1366.1,635.5 L1369.3,642.4 Q1371.0,646.0 1374.4,648.0 L1403.8,665.4 Q1409.0,668.5 1409.1,674.5 L1410.3,725.0 Q1410.5,733.0 1405.5,739.2 L1402.7,742.7 Q1400.0,746.0 1396.0,744.5 L1393.9,743.7 Q1392.0,743.0 1390.3,742.0 L1313.6,699.5 Q1311.0,698.0 1311.0,695.0 L1311.0,659.0 Q1311.0,656.0 1312.6,653.4 Z" fill="#6E0F17" />
<polygon points="1316.0,647.0 1319.0,633.0 1401.0,674.0 1394.0,698.0 1311.0,657.0" fill="#B81E24" />
<polygon points="1314.0,652.0 1317.0,643.0 1398.0,684.0 1394.0,699.0 1311.0,658.0" fill="#A0181F" />
<path d="M1310.5,660.5 Q1310.5,655.5 1315.0,657.7 L1390.0,694.8 Q1394.5,697.0 1394.6,702.0 L1394.9,739.0 Q1395.0,745.0 1389.8,742.1 L1314.9,700.4 Q1310.5,698.0 1310.5,693.0 Z" fill="#7C1318" />
<polygon points="1396.0,699.0 1409.5,677.0 1410.0,732.0 1401.0,744.0 1396.0,744.0" fill="#6A0E15" />
<path d="M1399.5,697 L1399.5,742 M1403.5,690 L1403.5,739" stroke="#B01C22" stroke-width="1.4"/>
</g>
<!-- ===== padlock ===== -->
<g>
<path d="M1516.4,790 C1514,752 1530,734 1546,736 C1558,738 1562,748 1561.2,762" fill="none" stroke="#4A080C" stroke-width="12" stroke-linecap="butt"/>
<path d="M1516.4,790 C1514,752 1530,734 1546,736 C1558,738 1562,748 1561.2,762" fill="none" stroke="#86131A" stroke-width="7.5" stroke-linecap="butt"/>
<path d="M1518.5,788 C1516.5,754 1531,738.5 1545,739" fill="none" stroke="#C0222A" stroke-width="1.6" stroke-linecap="round"/>
<path d="M1497.5,794.7 Q1497.5,791.0 1499.2,787.8 L1499.2,787.8 Q1501.0,784.5 1504.2,782.6 L1547.6,757.0 Q1551.0,755.0 1555.0,755.4 L1568.2,756.6 Q1573.0,757.0 1576.2,760.5 L1576.2,760.5 Q1579.5,764.0 1579.5,768.8 L1579.5,825.2 Q1579.5,829.0 1577.2,832.0 L1577.2,832.0 Q1575.0,835.0 1571.7,836.8 L1530.1,858.8 Q1523.0,862.5 1515.1,861.6 L1512.3,861.2 Q1506.0,860.5 1501.8,855.8 L1501.8,855.8 Q1497.5,851.0 1497.5,844.6 Z" fill="#761117" />
<polygon points="1523.5,797.0 1578.5,764.5 1578.5,829.0 1523.0,861.0" fill="#7E1318" />
<path d="M1501.4,790.3 Q1498.5,789.5 1501.0,787.9 L1548.5,757.6 Q1551.0,756.0 1554.0,756.3 L1570.6,757.7 Q1574.0,758.0 1576.2,760.5 L1576.5,760.8 Q1578.5,763.0 1575.9,764.6 L1525.2,795.5 Q1523.5,796.5 1521.6,796.0 Z" fill="#8A161C" />
<ellipse cx="1551.7" cy="806" rx="5.6" ry="6.4" transform="rotate(-20 1551.7 806)" fill="#0C0203"/>
<polygon points="1549.0,808.0 1554.3,806.0 1554.0,829.5 1551.0,832.5 1549.0,831.0" fill="#0C0203" />
</g>
<!-- ===== safe ===== -->
<g>
<path d="M1350.0,837.1 Q1360.0,830.5 1370.4,836.5 L1407.6,858.0 Q1418.0,864.0 1418.0,876.0 L1418.0,923.5 Q1418.0,933.5 1409.1,938.1 L1366.7,960.0 Q1356.0,965.5 1345.5,959.7 L1309.3,939.8 Q1300.5,935.0 1300.5,925.0 L1300.5,882.0 Q1300.5,870.0 1310.5,863.4 Z" fill="#7A1217" />
<path d="M1358.9,904.0 Q1359.0,899.0 1363.4,896.6 L1408.6,871.4 Q1416.5,867.0 1416.5,876.0 L1416.5,924.0 Q1416.5,932.0 1409.4,935.7 L1364.6,959.3 Q1357.5,963.0 1357.7,955.0 Z" fill="#87151A" />
<path d="M1351.7,838.6 Q1360.0,833.0 1368.6,838.1 L1405.9,859.9 Q1414.5,865.0 1405.9,870.0 L1363.2,895.0 Q1358.0,898.0 1352.6,895.3 L1312.5,875.4 Q1303.5,871.0 1311.8,865.4 Z" fill="#7E1318" />
<path d="M1358.5,902 L1357.5,960" stroke="#560A0F" stroke-width="2"/>
<path d="M1361,912 L1361,925 M1360,940 L1360,952" stroke="#3A060A" stroke-width="2.6"/>
<ellipse cx="1397" cy="918" rx="9.5" ry="12.5" transform="rotate(-22 1397 918)" fill="#3A060A"/>
<path d="M1385,931 L1409,906 M1388,906 L1408,930 M1383,920 L1412,916" stroke="#3A060A" stroke-width="3" stroke-linecap="round"/>
<circle cx="1397.5" cy="916" r="3" fill="#B01C22"/>
</g>
<!-- ===== connector lines ===== -->
<g>
<line x1="378.5" y1="613" x2="378.5" y2="745.5" stroke="#fff" stroke-width="3"/>
<polygon points="378.5,606.0 386.0,613.5 378.5,621.0 371.0,613.5" fill="#fff"/>
<line x1="816" y1="845" x2="816" y2="1108" stroke="#fff" stroke-width="3"/>
<polygon points="816,838.0 823.5,845.5 816,853.0 808.5,845.5" fill="#fff"/>
<line x1="1627" y1="1002" x2="1627" y2="1135" stroke="#fff" stroke-width="3"/>
<polygon points="1627,995.0 1634.5,1002.5 1627,1010.0 1619.5,1002.5" fill="#fff"/>
<line x1="807" y1="311.5" x2="807" y2="365" stroke="#fff" stroke-width="2"/>
<polygon points="807,361.0 811.5,365.5 807,370.0 802.5,365.5" fill="#fff"/>
<line x1="1169.7" y1="310" x2="1169.7" y2="363" stroke="#fff" stroke-width="2"/>
<polygon points="1169.7,358.5 1174.2,363 1169.7,367.5 1165.2,363" fill="#fff"/>
<line x1="835.2" y1="526.5" x2="835.2" y2="579" stroke="#fff" stroke-width="2"/>
<polygon points="835.2,574.8 839.7,579.3 835.2,583.8 830.7,579.3" fill="#fff"/>
<line x1="1142.4" y1="590" x2="1142.4" y2="642" stroke="#fff" stroke-width="2"/>
<polygon points="1142.4,585.5 1146.9,590 1142.4,594.5 1137.9,590" fill="#fff"/>
<line x1="1363.8" y1="608.5" x2="1363.8" y2="661" stroke="#fff" stroke-width="2"/>
<polygon points="1363.8,656.7 1368.3,661.2 1363.8,665.7 1359.3,661.2" fill="#fff"/>
<line x1="1551.8" y1="714.5" x2="1551.8" y2="767" stroke="#fff" stroke-width="2"/>
<polygon points="1551.8,763.0 1556.3,767.5 1551.8,772.0 1547.3,767.5" fill="#fff"/>
<line x1="1327" y1="932" x2="1327" y2="1110.5" stroke="#fff" stroke-width="2"/>
<polygon points="1327,927.3 1331.5,931.8 1327,936.3 1322.5,931.8" fill="#fff"/>
</g>
<!-- ===== arrows ===== -->
<g>
<path d="M986.0,483.6 L1056.6,524.0 M1052.3,517.2 L1056.6,524.0 M1048.6,523.8 L1056.6,524.0 M990.3,490.4 L986.0,483.6 M994.0,483.8 L986.0,483.6 " fill="none" stroke="#fff" stroke-width="1.5" stroke-linecap="round" stroke-linejoin="round"/>
<path d="M1216.3,412.0 L1326.5,475.6 L1215.5,539.7 M1223.5,539.4 L1215.5,539.7 M1219.7,532.9 L1215.5,539.7 " fill="none" stroke="#fff" stroke-width="1.5" stroke-linecap="round" stroke-linejoin="round"/>
<path d="M923.7,666.4 L962.4,687.6 L1071.6,623.7 M1063.6,624.0 L1071.6,623.7 M1067.4,630.5 L1071.6,623.7 " fill="none" stroke="#fff" stroke-width="1.5" stroke-linecap="round" stroke-linejoin="round"/>
<path d="M1214.8,612.5 L1248.0,632.7 M1243.9,625.8 L1248.0,632.7 M1240.0,632.2 L1248.0,632.7 M1218.9,619.4 L1214.8,612.5 M1222.8,613.0 L1214.8,612.5 " fill="none" stroke="#fff" stroke-width="1.5" stroke-linecap="round" stroke-linejoin="round"/>
<path d="M1440.0,762.5 L1479.5,786.2 M1475.4,779.3 L1479.5,786.2 M1471.5,785.8 L1479.5,786.2 M1444.1,769.4 L1440.0,762.5 M1448.0,762.9 L1440.0,762.5 " fill="none" stroke="#fff" stroke-width="1.5" stroke-linecap="round" stroke-linejoin="round"/>
<path d="M1440.0,893.5 L1480.0,870.6 M1472.0,870.9 L1480.0,870.6 M1475.7,877.4 L1480.0,870.6 M1448.0,893.2 L1440.0,893.5 M1444.3,886.7 L1440.0,893.5 " fill="none" stroke="#fff" stroke-width="1.5" stroke-linecap="round" stroke-linejoin="round"/>
</g>
<!-- ===== text ===== -->
<g font-family="'Liberation Sans', sans-serif" fill="#fff">
<text x="81.5" y="762" font-size="46.5" font-weight="400" textLength="269.88" lengthAdjust="spacingAndGlyphs" stroke="#fff" stroke-width="0.9" stroke-linejoin="round">Touchpoints</text>
<text x="459.0" y="1094" font-size="46.5" font-weight="400" textLength="327.99" lengthAdjust="spacingAndGlyphs" stroke="#fff" stroke-width="0.9" stroke-linejoin="round">Customer Data</text>
<text x="604.6" y="1155" font-size="46.5" font-weight="400" textLength="185.51" lengthAdjust="spacingAndGlyphs" stroke="#fff" stroke-width="0.9" stroke-linejoin="round">Platform</text>
<text x="1656.0" y="1120" font-size="46.5" font-weight="400" textLength="99.67" lengthAdjust="spacingAndGlyphs" stroke="#fff" stroke-width="0.9" stroke-linejoin="round">Data</text>
<text x="1656.5" y="1180.5" font-size="46.5" font-weight="400" textLength="229.75" lengthAdjust="spacingAndGlyphs" stroke="#fff" stroke-width="0.9" stroke-linejoin="round">protection</text>
<text x="820.2" y="321.5" font-size="25" font-weight="700" textLength="104.57" lengthAdjust="spacingAndGlyphs">Rest API</text>
<text x="1180.5" y="318.8" font-size="25" font-weight="700" textLength="189.5" lengthAdjust="spacingAndGlyphs">Single Sign-On</text>
<text x="645.0" y="535.6" font-size="25" font-weight="700" textLength="177.79" lengthAdjust="spacingAndGlyphs">Data importer</text>
<text x="1108.0" y="670.6" font-size="25" font-weight="700" textLength="59.3" lengthAdjust="spacingAndGlyphs">Data</text>
<text x="978.6" y="707.3" font-size="25" font-weight="700" textLength="190.32" lengthAdjust="spacingAndGlyphs">transformation</text>
<text x="1373.8" y="617.5" font-size="25" font-weight="700" textLength="123.32" lengthAdjust="spacingAndGlyphs">Database</text>
<text x="1562.0" y="682" font-size="25" font-weight="700" textLength="122.97" lengthAdjust="spacingAndGlyphs">User Data</text>
<text x="1562.0" y="718.5" font-size="25" font-weight="700" textLength="136.19" lengthAdjust="spacingAndGlyphs">protection</text>
<text x="1336.7" y="1099.1" font-size="25" font-weight="700" textLength="142.09" lengthAdjust="spacingAndGlyphs">Encryption</text>
<text x="1336.7" y="1135.8" font-size="25" font-weight="700" textLength="132.66" lengthAdjust="spacingAndGlyphs">Data Vault</text>
</g>
</svg>
</body>
</html>
